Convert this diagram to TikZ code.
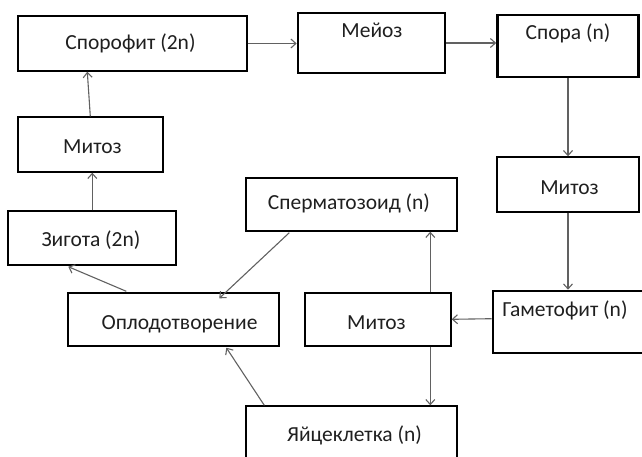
\documentclass[tikz,border=0pt]{standalone}
\usepackage{fontspec}
\setmainfont{Carlito}
\usetikzlibrary{arrows.meta,calc}
\begin{document}
\begin{tikzpicture}[x=1pt,y=-1pt,
  box/.style={draw=black,line width=1.4pt,minimum width=#1,inner sep=0pt},
  thickbox/.style={draw=black,line width=2.6pt,inner sep=0pt},
  txt/.style={font=\fontsize{21.5}{23}\selectfont,text=black!88,inner sep=0pt},
  arr/.style={draw=black!62,line width=1.1pt,-{Straight Barb[length=5pt,width=9pt]}}]
\useasboundingbox (0,0) rectangle (642,457);
\clip (0,0) rectangle (642,457);
% boxes
\node[box=229pt,minimum height=55pt] (spor) at (132.5,43.5) {};
\node[thickbox,minimum width=147pt,minimum height=60pt] (meioz) at (371.5,43) {};
\node[thickbox,minimum width=141pt,minimum height=62pt] (spora) at (568,46) {};
\node[box=145pt,minimum height=55pt] (mitL) at (90.5,144.5) {};
\node[box=168pt,minimum height=54pt] (zig) at (92,238) {};
\node[box=211pt,minimum height=53pt] (sperm) at (351.5,204.5) {};
\node[box=142pt,minimum height=55pt] (mitR) at (568,184.5) {};
\node[box=211pt,minimum height=53pt] (oplod) at (173.5,319.5) {};
\node[box=146pt,minimum height=53pt] (mitC) at (378,319.5) {};
\node[thickbox,minimum width=154pt,minimum height=62pt] (gam) at (570,322) {};
\node[box=211pt,minimum height=60pt] (egg) at (351.5,436) {};
% texts
\node[txt] (tspor) at (130.5,43) {Спорофит (2n)};
\node[txt] (tmeioz) at (372,30) {Мейоз};
\node[txt] (tspora) at (568,33) {Спора (n)};
\node[txt] (tmitL) at (92.5,147) {Митоз};
\node[txt] (tzig) at (91,240) {Зигота (2n)};
\node[txt] (tsperm) at (349,203) {Сперматозоид (n)};
\node[txt] (tmitR) at (569.5,188) {Митоз};
\node[txt] (toplod) at (179.5,324) {Оплодотворение};
\node[txt] (tmitC) at (376.5,323) {Митоз};
\node[txt] (tgam) at (565,310) {Гаметофит (n)};
\node[txt] (tegg) at (354.5,435) {Яйцеклетка (n)};
% arrows
\draw[arr] (spor.east) -- (spor.east -| meioz.west);
\draw[arr] (meioz.east) -- (meioz.east -| spora.west);
\draw[arr] (spora.south) -- (mitR.north);
\draw[arr] (mitR.south) -- (mitR.south |- gam.north);
\draw[arr] ($(gam.north west)+(0,29)$) -- ($(mitC.north east)+(0,27)$);
\draw[arr] ($(mitC.north west)+(126,0)$) -- ($(sperm.south west)+(185,0)$);
\draw[arr] ($(mitC.south west)+(126,0)$) -- ($(egg.north west)+(185,0)$);
\draw[arr] ($(sperm.south west)+(44,1)$) -- ($(oplod.north west)+(152,6)$);
\draw[arr] ($(egg.north west)+(19,0)$) -- ($(oplod.south west)+(159,1)$);
\draw[arr] ($(oplod.north west)+(59,-1)$) -- ($(zig.south west)+(61,1)$);
\draw[arr] ($(zig.north west)+(85,0)$) -- ($(mitL.south west)+(75,0)$);
\draw[arr] ($(mitL.north west)+(73,0)$) -- ($(spor.south west)+(70,0)$);
\end{tikzpicture}
\end{document}
